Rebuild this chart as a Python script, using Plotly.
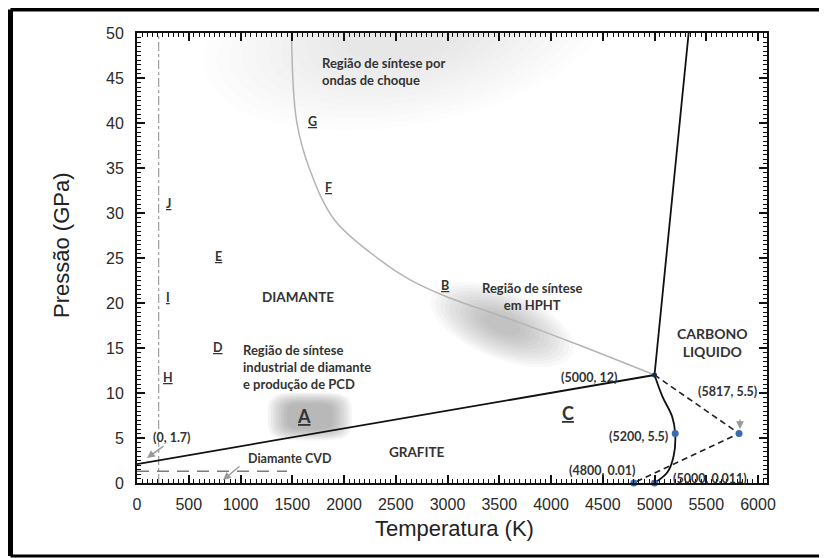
import numpy as np
import plotly.graph_objects as go

# ---------------- data ----------------
x_ticks = [0, 500, 1000, 1500, 2000, 2500, 3000, 3500, 4000, 4500, 5000, 5500, 6000]
y_ticks = [0, 5, 10, 15, 20, 25, 30, 35, 40, 45, 50]

# graphite / diamond boundary
gd_T = [0, 5000]
gd_P = [2.1, 12]
# diamond / liquid boundary
dl_T = [5000, 5330]
dl_P = [12, 50]
# graphite / liquid boundary
gl_T = [5000, 5077, 5170, 5200, 5185, 5125, 5000]
gl_P = [12, 9.6, 7.4, 5.5, 3.0, 1.2, 0.011]
# grey (kinetic) curve
kin_T = [1493, 1541, 1670, 1911, 2346, 2635, 2992, 3631, 4276, 5000]
kin_P = [50, 40.3, 34.8, 29.2, 24.8, 22.6, 20.7, 18.1, 15.3, 12]
# dashed metastable lines
dash_T = [5000, 5817, 4800]
dash_P = [12, 5.5, 0.01]
# labelled points
pts_T = [4800, 5000, 5200, 5817]
pts_P = [0.01, 0.011, 5.5, 5.5]
triple_T = [5000]
triple_P = [12]
# CVD dashed line and dash-dot vertical
cvd_T = [0, 1450]
cvd_P = [1.3, 1.3]
vline_T = [210, 210]
vline_P = [0, 50]

# ---------------- geometry helpers ----------------
# the page body adds an 8 px offset; work in screen pixels and convert
OFF = 8
W, H = 827 - OFF, 558 - OFF
XMAX = 6087
PL, PR, PT, PB = 137, 767, 33, 483          # plot box in screen px
ML, MR, MT, MB = PL - OFF, W - (PR - OFF), PT - OFF, H - (PB - OFF)
PW = PR - PL
PH = PB - PT
SX = PW / XMAX      # px per K
SY = PH / 50.0      # px per GPa


def pxy(px, py):
    """screen px -> data coords"""
    return (px - PL) / SX, (PB - py) / SY


def px2paper(px, py):
    return (px - PL) / PW, (PB - py) / PH


def blob_path(cx, cy, rx, ry, ang, n=2.0):
    """super-ellipse path in data coords; rx, ry in px, ang in deg (screen)."""
    t = np.linspace(0, 2 * np.pi, 72, endpoint=False)
    c, s = np.cos(t), np.sin(t)
    ex = np.sign(c) * np.abs(c) ** (2.0 / n) * rx
    ey = np.sign(s) * np.abs(s) ** (2.0 / n) * ry
    a = np.radians(ang)
    dx = ex * np.cos(a) - ey * np.sin(a)
    dy = ex * np.sin(a) + ey * np.cos(a)
    X = cx + dx / SX
    Y = cy - dy / SY
    pts = ["%s%.2f,%.3f" % ("M" if i == 0 else "L", X[i], Y[i]) for i in range(len(X))]
    return " ".join(pts) + " Z"


shapes = []


def blob(cx, cy, rx, ry, ang, layers, alpha, n=2.0, smin=0.35):
    for k in range(layers):
        f = 1.0 - (1.0 - smin) * k / max(layers - 1, 1)
        shapes.append(dict(type="path", xref="x", yref="y", layer="below",
                           path=blob_path(cx, cy, rx * f, ry * f, ang, n),
                           fillcolor="rgba(110,110,110,%.3f)" % alpha,
                           line=dict(width=0)))


# shock-wave region, HPHT region, region A
blob(2600, 50.0, 205, 92, -10, 12, 0.014, smin=0.3)
blob(3530, 17.6, 76, 34, 22, 12, 0.045, smin=0.25)
blob(1670, 7.4, 42, 24, 0, 8, 0.075, n=4.0, smin=0.55)

# outer frame (left, top, bottom)
lx, _ = px2paper(10.5, 0)
_, ty = px2paper(0, 9.5)
_, by = px2paper(0, 556)
rx_, _ = px2paper(835, 0)
shapes.append(dict(type="line", xref="paper", yref="paper", x0=lx, x1=lx, y0=by, y1=ty,
                   line=dict(color="black", width=5)))
shapes.append(dict(type="line", xref="paper", yref="paper", x0=lx, x1=rx_, y0=ty, y1=ty,
                   line=dict(color="black", width=4)))
shapes.append(dict(type="line", xref="paper", yref="paper", x0=lx, x1=rx_, y0=by, y1=by,
                   line=dict(color="black", width=3)))

fig = go.Figure()
fig.add_trace(go.Scatter(x=vline_T, y=vline_P, mode="lines",
                         line=dict(color="#8a8a8a", width=1, dash="dashdot")))
fig.add_trace(go.Scatter(x=cvd_T, y=cvd_P, mode="lines",
                         line=dict(color="#7a7a7a", width=1.6, dash="12px,8px")))
fig.add_trace(go.Scatter(x=kin_T, y=kin_P, mode="lines", line_shape="spline",
                         line=dict(color="#b4b4b4", width=1.5)))
fig.add_trace(go.Scatter(x=gd_T, y=gd_P, mode="lines", line=dict(color="#111", width=1.8)))
fig.add_trace(go.Scatter(x=dl_T, y=dl_P, mode="lines", line=dict(color="#111", width=1.8)))
fig.add_trace(go.Scatter(x=gl_T, y=gl_P, mode="lines", line_shape="spline",
                         line=dict(color="#111", width=1.8)))
fig.add_trace(go.Scatter(x=dash_T, y=dash_P, mode="lines",
                         line=dict(color="#222", width=1.6, dash="6px,4px")))
fig.add_trace(go.Scatter(x=pts_T, y=pts_P, mode="markers", cliponaxis=False,
                         marker=dict(color="#3b6db5", size=7)))
fig.add_trace(go.Scatter(x=triple_T, y=triple_P, mode="markers",
                         marker=dict(color="#1a2a4a", size=5)))

TF = "Lato, 'Open Sans', sans-serif"
TC = "#333333"
ann = []


def txt(x, y, s, size=13, align="center", xanchor="center"):
    ann.append(dict(x=x, y=y, xref="x", yref="y", text=s, showarrow=False,
                    font=dict(family=TF, size=size, color=TC), align=align,
                    xanchor=xanchor, yanchor="middle"))


# region texts
x, y = pxy(320, 71)
txt(x, y, "<b>Região de síntese por<br>ondas de choque</b>", 13, "left", "left")
x, y = pxy(298, 297)
txt(x, y, "<b>DIAMANTE</b>", 13.5)
x, y = pxy(241, 367)
txt(x, y, "<b>Região de síntese<br>industrial de diamante<br>e produção de PCD</b>", 13, "left", "left")
x, y = pxy(532, 296)
txt(x, y, "<b>Região de síntese<br>em HPHT</b>", 13)
x, y = pxy(712, 342)
txt(x, y, "<b>CARBONO<br>LIQUIDO</b>", 14)
x, y = pxy(417, 452)
txt(x, y, "<b>GRAFITE</b>", 13.5)
x, y = pxy(290, 458)
txt(x, y, "<b>Diamante CVD</b>", 12.5)

# coordinate labels
for (px, py, s) in [(589, 377, "(5000, 12)"), (727, 391, "(5817, 5.5)"),
                    (638, 436, "(5200, 5.5)"), (602, 470, "(4800, 0.01)"),
                    (710, 478, "(5000, 0.011)"), (172, 437, "(0, 1.7)")]:
    x, y = pxy(px, py)
    txt(x, y, "<b>" + s + "</b>", 12.5)

# letters
for (px, py, s) in [(312, 121, "G"), (328, 187, "F"), (218, 256, "E"), (168, 203, "J"),
                    (168, 297, "I"), (168, 377, "H"), (218, 347, "D"), (445, 285, "B")]:
    x, y = pxy(px, py)
    txt(x, y, "<b><u>" + s + "</u></b>", 12.5)
for (px, py, s) in [(304, 416, "A"), (568, 413, "C")]:
    x, y = pxy(px, py)
    txt(x, y, "<b><u>" + s + "</u></b>", 18)

# grey arrows
for (tx, ty_, hx, hy) in [(165, 445, 147, 458), (241, 465, 223, 480), (740, 418, 740, 429)]:
    x1, y1 = pxy(tx, ty_)
    x2, y2 = pxy(hx, hy)
    ann.append(dict(x=x2, y=y2, ax=x1, ay=y1, xref="x", yref="y", axref="x", ayref="y",
                    text="", showarrow=True, arrowhead=2, arrowsize=1.1, arrowwidth=1.4,
                    arrowcolor="#9a9a9a"))

# axis titles
ax_, ay_ = px2paper(454, 528)
ann.append(dict(x=ax_, y=ay_, xref="paper", yref="paper", text="Temperatura (K)",
                xanchor="center", yanchor="middle",
                showarrow=False, font=dict(family="Liberation Sans, Arial", size=22, color="#222")))
ax_, ay_ = px2paper(61, 245)
ann.append(dict(x=ax_, y=ay_, xref="paper", yref="paper", text="Pressão (GPa)", textangle=-90,
                xanchor="center", yanchor="middle",
                showarrow=False, font=dict(family="Liberation Sans, Arial", size=22, color="#222")))

axcommon = dict(showgrid=False, zeroline=False, showline=True, linecolor="#111", linewidth=2,
                ticks="inside", ticklen=8, tickwidth=1.5, tickcolor="#111", mirror="allticks",
                automargin=False,
                tickfont=dict(family="Liberation Sans, Arial", size=16, color="#2a2a2a"))
fig.update_layout(
    width=W, height=H, margin=dict(l=ML, r=MR, t=MT, b=MB, autoexpand=False),
    paper_bgcolor="white", plot_bgcolor="white", showlegend=False,
    shapes=shapes, annotations=ann,
    xaxis=dict(range=[0, XMAX], tickvals=x_ticks, ticktext=[str(v) for v in x_ticks],
               minor=dict(ticks="inside", dtick=50, ticklen=4, tickcolor="#111", tickwidth=1),
               ticklabelstandoff=6, **axcommon),
    yaxis=dict(range=[0, 50], tickvals=y_ticks, ticktext=[str(v) for v in y_ticks],
               minor=dict(ticks="inside", dtick=0.5, ticklen=4, tickcolor="#111", tickwidth=1),
               ticklabelstandoff=8, **axcommon),
)
fig.write_html("out.html")
